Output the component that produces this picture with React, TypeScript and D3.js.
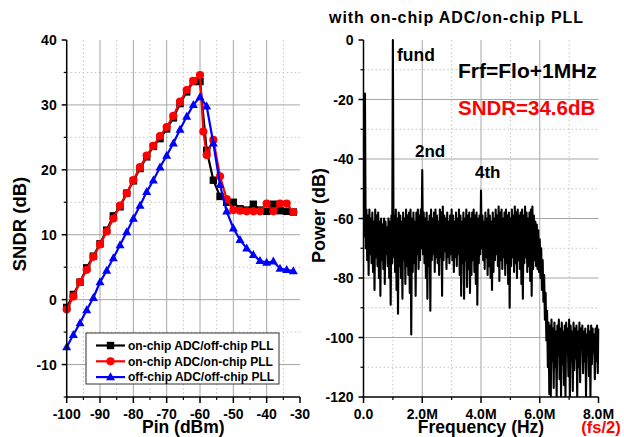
import React from "react";
import * as d3 from "d3";

// ---------- Left panel data (SNDR vs Pin) ----------
const blackX = [-100,-98,-96,-94,-92,-90,-88,-86,-84,-82,-80,-78,-76,-74,-72,-70,-68,-66,-64,-62,-60,-58,-56,-54,-52,-50,-48,-46,-44,-42,-40,-38,-36,-34,-32];
const blackY = [-1.2,0.8,2.7,4.9,6.7,8.6,10.7,12.9,14.3,16.4,18.3,20.2,22.0,23.6,24.8,26.3,28.0,30.2,32.0,33.6,33.6,23.0,18.4,15.9,15.0,15.0,14.0,13.8,14.7,13.8,13.6,14.7,13.7,13.6,13.5];

const redX = [-100,-98,-96,-94,-92,-90,-88,-86,-84,-82,-80,-78,-76,-74,-72,-70,-68,-66,-64,-62,-60,-59,-58,-56,-54,-52,-50,-48,-46,-44,-42,-40,-38,-36,-34,-32];
const redY = [-1.5,0.5,2.7,4.6,6.6,8.5,10.5,12.5,14.5,16.4,18.4,20.4,22.2,23.7,25.2,26.6,28.3,30.5,32.3,33.7,34.6,25.9,22.3,24.6,19.0,15.5,13.8,13.7,13.6,13.6,13.6,14.8,13.6,14.8,14.8,13.5];

const blueX = [-100,-98,-96,-94,-92,-90,-88,-86,-84,-82,-80,-78,-76,-74,-72,-70,-68,-66,-64,-62,-60,-58,-56,-54,-52,-50,-48,-46,-44,-42,-40,-38,-36,-34,-32];
const blueY = [-7.3,-5.4,-3.6,-1.6,0.3,2.7,4.5,6.4,8.4,10.4,12.5,14.5,16.6,18.4,20.4,22.2,24.1,26.2,28.2,30.0,31.2,29.8,24.1,17.7,13.6,11.0,9.2,7.9,6.9,6.0,5.7,5.9,4.8,4.6,4.4];

const seriesNames = ["on-chip ADC/off-chip PLL", "on-chip ADC/on-chip PLL", "off-chip ADC/off-chip PLL"];

const pinTicks = [-100,-90,-80,-70,-60,-50,-40,-30];
const sndrTicks = [-10,0,10,20,30,40];

// ---------- Right panel data (spectrum) ----------
const specStepMHz = 0.05;
// upper value of each 50 kHz bin (dB); tones: DC spur, fund (1M), 2nd (2M), 4th (4M)
const specHi = [
  -55,-18,-57,-59,-57,-60,-58,-61,-57,-59,
  -58,-61,-60,-62,-60,-61,-63,-60,-61,-59,
  0,-59,-57,-60,-58,-59,-61,-58,-60,-57,
  -59,-58,-57,-60,-58,-61,-58,-57,-59,-57,
  -43.7,-58,-60,-58,-61,-59,-57,-60,-58,-57,
  -59,-61,-57,-58,-56,-59,-60,-58,-61,-59,
  -57,-59,-61,-58,-60,-57,-59,-61,-58,-60,
  -57,-59,-58,-60,-58,-57,-59,-58,-60,-59,
  -50.6,-59,-61,-58,-60,-57,-59,-61,-58,-60,
  -57,-59,-56,-58,-57,-60,-58,-57,-59,-58,
  -60,-57,-59,-56,-58,-57,-59,-58,-57,-59,
  -56,-58,-60,-58,-57,-56,-59,-61,-62,-64,
  -67,-70,-74,-79,-85,-91,-95,-96,-94,-97,
  -95,-98,-96,-94,-97,-95,-98,-96,-95,-97,
  -94,-96,-98,-95,-97,-96,-98,-95,-97,-96,
  -98,-97,-99,-96,-98,-96,-97,-99,-97,-96,
  -97
];
// lower value of each 50 kHz bin (dB)
const specLo = [
  -66,-70,-74,-79,-72,-75,-78,-84,-73,-76,
  -80,-86,-74,-77,-82,-72,-76,-80,-89,-75,
  -73,-78,-84,-92,-76,-80,-87,-74,-82,-76,
  -79,-85,-99,-78,-75,-86,-72,-77,-74,-70,
  -72,-75,-80,-87,-76,-91,-74,-72,-78,-73,
  -75,-79,-73,-86,-74,-71,-77,-73,-75,-72,
  -74,-78,-73,-76,-72,-79,-86,-75,-87,-74,
  -83,-77,-85,-79,-74,-78,-82,-89,-75,-72,
  -70,-74,-77,-73,-79,-76,-80,-84,-78,-74,
  -72,-76,-81,-74,-77,-73,-79,-75,-82,-90,
  -76,-73,-78,-75,-80,-74,-77,-82,-87,-75,
  -73,-78,-76,-81,-86,-77,-74,-76,-77,-78,
  -80,-84,-88,-94,-101,-110,-119,-120,-108,-117,
  -110,-120,-106,-114,-120,-109,-116,-120,-105,-113,
  -120,-108,-118,-111,-107,-120,-110,-115,-104,-112,
  -108,-120,-106,-113,-120,-109,-105,-114,-108,-112,
  -103
];

const freqTicks = [0,2,4,6,8];
const freqTickLabels = ["0.0","2.0M","4.0M","6.0M","8.0M"];
const powerTicks = [-120,-100,-80,-60,-40,-20,0];

const FONT = "Arial, 'Liberation Sans', Helvetica, sans-serif";

type Pt = [number, number];

function Marker({ kind, x, y, color }: { kind: string; x: number; y: number; color: string }) {
  if (kind === "square") return <rect x={x - 3.7} y={y - 3.7} width={7.4} height={7.4} fill={color} />;
  if (kind === "circle") return <circle cx={x} cy={y} r={4.1} fill={color} />;
  return <path d={`M${x},${y - 4.8}L${x + 4.5},${y + 3.2}L${x - 4.5},${y + 3.2}Z`} fill={color} />;
}

export default function App() {
  const W = 624, H = 437;

  const xL = d3.scaleLinear().domain([-100, -30]).range([66.7, 300]);
  const yL = d3.scaleLinear().domain([-15, 40]).range([397, 40]);
  const xR = d3.scaleLinear().domain([0, 8]).range([363.5, 598.5]);
  const yR = d3.scaleLinear().domain([-120, 0]).range([397, 40]);

  const lineL = d3.line<Pt>().x(d => xL(d[0])).y(d => yL(d[1]));
  const lineR = d3.line<Pt>().x(d => xR(d[0])).y(d => yR(d[1]));

  const series = [
    { xs: blackX, ys: blackY, color: "#000000", kind: "square", name: seriesNames[0] },
    { xs: redX, ys: redY, color: "#ff0000", kind: "circle", name: seriesNames[1] },
    { xs: blueX, ys: blueY, color: "#0000ff", kind: "triangle", name: seriesNames[2] },
  ];

  const specPts: Pt[] = [];
  specHi.forEach((v, i) => {
    const f = i * specStepMHz;
    specPts.push([f, v]);
    const f2 = f + specStepMHz / 2;
    if (f2 <= 8) specPts.push([f2, specLo[i]]);
  });

  const majorGrid = "#a6a6a6";
  const minorGrid = "#c4c4c4";

  const lxMajor = d3.range(-90, -30, 10);
  const lxMinor = d3.range(-95, -30, 10);
  const lyMajor = d3.range(-10, 40, 10);
  const lyMinor = d3.range(-5, 40, 10);
  const rxMajor = [2, 4, 6];
  const rxMinor = [1, 3, 5, 7];
  const ryMajor = d3.range(-100, 0, 20);
  const ryMinor = d3.range(-110, 0, 20);

  const tickFont = { fontFamily: FONT, fontWeight: 700, fontSize: 14 } as const;
  const bold = { fontFamily: FONT, fontWeight: 700 } as const;

  return (
    <svg width={W} height={H} style={{ position: "absolute", left: 0, top: 0, background: "#fff" }}>
      <defs>
        <clipPath id="clipR">
          <rect x={xR(0)} y={yR(0) - 2} width={xR(8) - xR(0) + 1} height={yR(-120) - yR(0) + 2} />
        </clipPath>
      </defs>
      <rect x={0} y={0} width={W} height={H} fill="#fff" />

      {/* ---------- LEFT GRID ---------- */}
      {lxMinor.map(v => (
        <line key={"lxm" + v} x1={xL(v)} x2={xL(v)} y1={yL(40)} y2={yL(-15)} stroke={minorGrid} strokeDasharray="1.5,2.5" />
      ))}
      {lyMinor.map(v => (
        <line key={"lym" + v} x1={xL(-100)} x2={xL(-30)} y1={yL(v)} y2={yL(v)} stroke={minorGrid} strokeDasharray="1.5,2.5" />
      ))}
      {lxMajor.map(v => (
        <line key={"lxM" + v} x1={xL(v)} x2={xL(v)} y1={yL(40)} y2={yL(-15)} stroke={majorGrid} />
      ))}
      {lyMajor.map(v => (
        <line key={"lyM" + v} x1={xL(-100)} x2={xL(-30)} y1={yL(v)} y2={yL(v)} stroke={majorGrid} />
      ))}

      {/* ---------- LEFT SERIES ---------- */}
      {series.map(s => {
        const pts: Pt[] = s.xs.map((x, i) => [x, s.ys[i]]);
        return (
          <g key={s.name}>
            <path d={lineL(pts) || ""} fill="none" stroke={s.color} strokeWidth={2.2} />
            {pts.map((p, i) => (
              <Marker key={i} kind={s.kind} x={xL(p[0])} y={yL(p[1])} color={s.color} />
            ))}
          </g>
        );
      })}

      {/* ---------- LEFT AXES ---------- */}
      <line x1={xL(-100)} x2={xL(-100)} y1={yL(40)} y2={yL(-15) + 0.75} stroke="#000" strokeWidth={1.5} />
      <line x1={xL(-100) - 0.75} x2={xL(-30)} y1={yL(-15)} y2={yL(-15)} stroke="#000" strokeWidth={1.5} />
      {sndrTicks.map(v => (
        <g key={"yt" + v}>
          <line x1={xL(-100) - 5} x2={xL(-100)} y1={yL(v)} y2={yL(v)} stroke="#000" strokeWidth={1.5} />
          <text x={xL(-100) - 10} y={yL(v)} dy="0.36em" textAnchor="end" {...tickFont}>{v}</text>
        </g>
      ))}
      {d3.range(-15, 40, 10).map(v => (
        <line key={"ytm" + v} x1={xL(-100) - 3} x2={xL(-100)} y1={yL(v)} y2={yL(v)} stroke="#000" strokeWidth={1.2} />
      ))}
      {pinTicks.map(v => (
        <g key={"xt" + v}>
          <line x1={xL(v)} x2={xL(v)} y1={yL(-15)} y2={yL(-15) + 6} stroke="#000" strokeWidth={1.5} />
          <text x={xL(v)} y={419} textAnchor="middle" {...tickFont}>{v}</text>
        </g>
      ))}
      {d3.range(-95, -30, 10).map(v => (
        <line key={"xtm" + v} x1={xL(v)} x2={xL(v)} y1={yL(-15)} y2={yL(-15) + 3} stroke="#000" strokeWidth={1.2} />
      ))}
      <text x={(xL(-100) + xL(-30)) / 2} y={433} textAnchor="middle" {...bold} fontSize={17.5}>Pin (dBm)</text>
      <text transform={`translate(25.5,224) rotate(-90)`} textAnchor="middle" {...bold} fontSize={18.5}>SNDR (dB)</text>

      {/* ---------- LEGEND ---------- */}
      <rect x={86} y={333} width={193} height={51} fill="#fff" stroke="#333" strokeWidth={1} />
      {series.map((s, i) => {
        const ly = 345.5 + i * 15.8;
        return (
          <g key={"lg" + i}>
            <line x1={96} x2={125} y1={ly} y2={ly} stroke={s.color} strokeWidth={2.2} />
            <Marker kind={s.kind} x={110.5} y={ly} color={s.color} />
            <text x={128} y={ly} dy="0.36em" {...bold} fontSize={12}>{s.name}</text>
          </g>
        );
      })}

      {/* ---------- RIGHT GRID ---------- */}
      {rxMinor.map(v => (
        <line key={"rxm" + v} x1={xR(v)} x2={xR(v)} y1={yR(0)} y2={yR(-120)} stroke={minorGrid} strokeDasharray="1.5,2.5" />
      ))}
      {ryMinor.map(v => (
        <line key={"rym" + v} x1={xR(0)} x2={xR(8)} y1={yR(v)} y2={yR(v)} stroke={minorGrid} strokeDasharray="1.5,2.5" />
      ))}
      {rxMajor.map(v => (
        <line key={"rxM" + v} x1={xR(v)} x2={xR(v)} y1={yR(0)} y2={yR(-120)} stroke={majorGrid} />
      ))}
      {ryMajor.map(v => (
        <line key={"ryM" + v} x1={xR(0)} x2={xR(8)} y1={yR(v)} y2={yR(v)} stroke={majorGrid} />
      ))}

      {/* ---------- SPECTRUM ---------- */}
      <g clipPath="url(#clipR)">
        <path d={lineR(specPts) || ""} fill="none" stroke="#000" strokeWidth={2.1} strokeLinejoin="round" />
      </g>

      {/* ---------- RIGHT AXES ---------- */}
      <line x1={xR(0)} x2={xR(0)} y1={yR(0)} y2={yR(-120) + 0.75} stroke="#000" strokeWidth={1.5} />
      <line x1={xR(0) - 0.75} x2={xR(8)} y1={yR(-120)} y2={yR(-120)} stroke="#000" strokeWidth={1.5} />
      {powerTicks.map(v => (
        <g key={"pt" + v}>
          <line x1={xR(0) - 5} x2={xR(0)} y1={yR(v)} y2={yR(v)} stroke="#000" strokeWidth={1.5} />
          <text x={xR(0) - 10} y={yR(v)} dy="0.36em" textAnchor="end" {...tickFont}>{v}</text>
        </g>
      ))}
      {d3.range(-110, 0, 20).map(v => (
        <line key={"ptm" + v} x1={xR(0) - 3} x2={xR(0)} y1={yR(v)} y2={yR(v)} stroke="#000" strokeWidth={1.2} />
      ))}
      {freqTicks.map((v, i) => (
        <g key={"ft" + v}>
          <line x1={xR(v)} x2={xR(v)} y1={yR(-120)} y2={yR(-120) + 6} stroke="#000" strokeWidth={1.5} />
          <text x={xR(v)} y={419} textAnchor="middle" {...tickFont}>{freqTickLabels[i]}</text>
        </g>
      ))}
      {[1, 3, 5, 7].map(v => (
        <line key={"ftm" + v} x1={xR(v)} x2={xR(v)} y1={yR(-120)} y2={yR(-120) + 3} stroke="#000" strokeWidth={1.2} />
      ))}
      <text x={(xR(0) + xR(8)) / 2} y={433} textAnchor="middle" {...bold} fontSize={17.5}>Frequency (Hz)</text>
      <text x={601} y={433} textAnchor="middle" {...bold} fontSize={16.5} fill="#ff0000">(fs/2)</text>
      <text transform={`translate(325,215.5) rotate(-90)`} textAnchor="middle" {...bold} fontSize={18}>Power (dB)</text>

      {/* ---------- ANNOTATIONS ---------- */}
      <text x={456.5} y={23} textAnchor="middle" {...bold} fontSize={16} letterSpacing={0.9}>with on-chip ADC/on-chip PLL</text>
      <text x={397} y={61} {...bold} fontSize={17.5}>fund</text>
      <text x={458} y={78} {...bold} fontSize={21}>Frf=Flo+1MHz</text>
      <text x={458} y={115} {...bold} fontSize={20.5} fill="#ff0000">SNDR=34.6dB</text>
      <text x={415} y={157} {...bold} fontSize={17}>2nd</text>
      <text x={475} y={178} {...bold} fontSize={17}>4th</text>
    </svg>
  );
}
